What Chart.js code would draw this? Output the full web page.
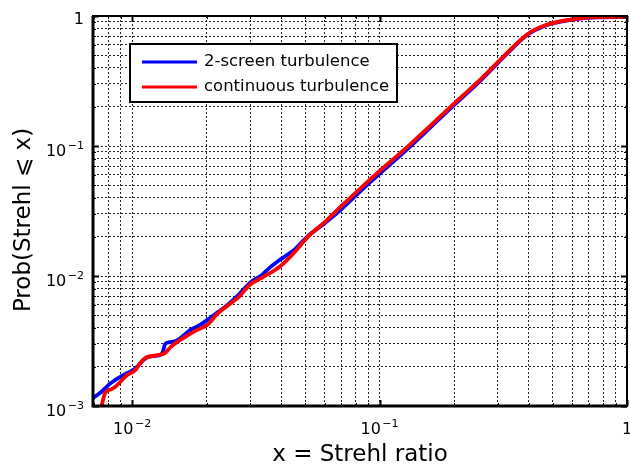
<!DOCTYPE html>
<html lang="en">
<head>
    <meta charset="UTF-8">
    <title>Strehl ratio CDF</title>
    <script src="https://cdn.jsdelivr.net/npm/chart.js"></script>
    <style>
        html, body { margin: 0; padding: 0; background: #fff; }
        #wrap { width: 630px; height: 469px; }
    </style>
</head>
<body>

<div id="wrap"><canvas id="strehlChart" width="630" height="469"></canvas></div>

<script>
    // values
    const seriesNames = ['2-screen turbulence', 'continuous turbulence'];

    const twoScreenX = [0.00695, 0.0075, 0.00778, 0.0082, 0.00853, 0.0092, 0.0101, 0.0106, 0.0111, 0.0118,
        0.0130, 0.0133, 0.0136, 0.0142, 0.0152, 0.0162, 0.0172, 0.0188, 0.0205, 0.0223,
        0.0243, 0.027, 0.030, 0.0335, 0.036, 0.0397, 0.045, 0.0512, 0.060, 0.0695,
        0.0894, 0.1336, 0.1936, 0.2564, 0.33, 0.397, 0.461, 0.556, 0.67, 0.8, 1.0];
    const twoScreenY = [1.15e-3, 1.28e-3, 1.37e-3, 1.5e-3, 1.58e-3, 1.73e-3, 1.89e-3, 2.05e-3, 2.26e-3, 2.4e-3,
        2.47e-3, 2.6e-3, 3.0e-3, 3.1e-3, 3.2e-3, 3.5e-3, 3.85e-3, 4.2e-3, 4.7e-3, 5.3e-3,
        6.0e-3, 7.2e-3, 8.9e-3, 1.02e-2, 1.16e-2, 1.34e-2, 1.58e-2, 2.02e-2, 2.55e-2, 3.22e-2,
        5.05e-2, 1.0e-1, 1.95e-1, 3.2e-1, 5.2e-1, 7.2e-1, 8.35e-1, 9.15e-1, 9.65e-1, 0.978, 0.982];

    const continuousX = [0.0075, 0.00778, 0.0082, 0.00853, 0.00955, 0.0103, 0.0108, 0.0113, 0.0125, 0.0136,
        0.0143, 0.0161, 0.0183, 0.0201, 0.0223, 0.0243, 0.027, 0.030, 0.0335, 0.0397,
        0.045, 0.0512, 0.060, 0.0695, 0.0894, 0.1336, 0.1936, 0.2564, 0.33, 0.397,
        0.461, 0.556, 0.67, 0.8, 1.0];
    const continuousY = [0.97e-3, 1.26e-3, 1.34e-3, 1.4e-3, 1.73e-3, 1.89e-3, 2.14e-3, 2.34e-3, 2.45e-3, 2.56e-3,
        2.84e-3, 3.33e-3, 3.85e-3, 4.2e-3, 5.2e-3, 5.9e-3, 6.9e-3, 8.6e-3, 9.7e-3, 1.19e-2,
        1.5e-2, 1.99e-2, 2.6e-2, 3.4e-2, 5.3e-2, 1.04e-1, 2.0e-1, 3.27e-1, 5.28e-1, 7.27e-1,
        8.4e-1, 9.2e-1, 9.68e-1, 0.98, 0.984];

    // decade tick labels: base and superscript exponent
    const xMajor = [0.01, 0.1, 1];
    const xTickBase = ['10', '10', '1'];
    const xTickExp = ['\u22122', '\u22121', ''];
    const yMajor = [0.001, 0.01, 0.1, 1];
    const yTickBase = ['10', '10', '10', '1'];
    const yTickExp = ['\u22123', '\u22122', '\u22121', ''];

    const xTitle = 'x = Strehl ratio';
    const yTitle = 'Prob(Strehl \u2A7D x)';

    const xRange = [0.00695, 1];
    const yRange = [0.001, 1];

    function toPoints(xs, ys) {
        return xs.map((x, i) => ({ x: x, y: ys[i] }));
    }

    // 1..9 x 10^n grid positions inside the range
    function decadeTicks(min, max) {
        const ticks = [];
        for (let e = Math.floor(Math.log10(min)); e <= Math.ceil(Math.log10(max)); e++) {
            for (let k = 1; k <= 9; k++) {
                const v = k * Math.pow(10, e);
                if (v >= min * 0.9999 && v <= max * 1.0001) ticks.push({ value: v });
            }
        }
        return ticks;
    }

    function isMajor(value) {
        return Math.abs(Math.log10(value) - Math.round(Math.log10(value))) < 1e-6;
    }

    const baseFont = '16px "DejaVu Sans"';
    const expFont = '11px "DejaVu Sans"';

    // box frame, inward tick marks, decade labels with superscripts, y title
    const frameTicks = {
        id: 'frameTicks',
        afterDatasetsDraw(chart) {
            const { ctx, chartArea: a, scales } = chart;
            ctx.save();
            ctx.strokeStyle = '#000';
            scales.x.ticks.forEach(t => {
                const px = Math.round(scales.x.getPixelForValue(t.value)) + 0.5;
                const len = isMajor(t.value) ? 6 : 3;
                ctx.lineWidth = isMajor(t.value) ? 2 : 1;
                ctx.beginPath();
                ctx.moveTo(px, a.bottom); ctx.lineTo(px, a.bottom - len);
                ctx.moveTo(px, a.top); ctx.lineTo(px, a.top + len);
                ctx.stroke();
            });
            scales.y.ticks.forEach(t => {
                const py = Math.round(scales.y.getPixelForValue(t.value)) + 0.5;
                const len = isMajor(t.value) ? 6 : 3;
                ctx.lineWidth = isMajor(t.value) ? 2 : 1;
                ctx.beginPath();
                ctx.moveTo(a.left, py); ctx.lineTo(a.left + len, py);
                ctx.moveTo(a.right, py); ctx.lineTo(a.right - len, py);
                ctx.stroke();
            });
            ctx.lineWidth = 2;
            ctx.strokeRect(a.left, a.top, a.right - a.left, a.bottom - a.top);
            // slightly heavier left and bottom axis lines
            ctx.lineWidth = 3;
            ctx.beginPath();
            ctx.moveTo(a.left, a.top); ctx.lineTo(a.left, a.bottom); ctx.lineTo(a.right, a.bottom);
            ctx.stroke();

            ctx.fillStyle = '#000';
            ctx.textBaseline = 'alphabetic';
            ctx.textAlign = 'left';
            const gap = 1.5;
            xMajor.forEach((v, i) => {
                const px = scales.x.getPixelForValue(v);
                ctx.font = baseFont;
                const bw = ctx.measureText(xTickBase[i]).width;
                ctx.font = expFont;
                const ew = xTickExp[i] ? ctx.measureText(xTickExp[i]).width + gap : 0;
                const x0 = px - (bw + ew) / 2;
                ctx.font = baseFont;
                ctx.fillText(xTickBase[i], x0, a.bottom + 28);
                ctx.font = expFont;
                if (xTickExp[i]) ctx.fillText(xTickExp[i], x0 + bw + gap, a.bottom + 21);
            });
            yMajor.forEach((v, i) => {
                const py = scales.y.getPixelForValue(v);
                const right = a.left - 9;
                ctx.font = expFont;
                const ew = yTickExp[i] ? ctx.measureText(yTickExp[i]).width + gap : 0;
                ctx.font = baseFont;
                const bw = ctx.measureText(yTickBase[i]).width;
                const x0 = right - ew - bw;
                ctx.fillText(yTickBase[i], x0, py + (yTickExp[i] ? 10 : 8));
                ctx.font = expFont;
                if (yTickExp[i]) ctx.fillText(yTickExp[i], x0 + bw + gap, py + 3);
            });

            ctx.font = '23px "DejaVu Sans"';
            ctx.textAlign = 'center';
            ctx.textBaseline = 'middle';
            ctx.translate(24, (a.top + a.bottom) / 2 + 9);
            ctx.rotate(-Math.PI / 2);
            ctx.fillText(yTitle, 0, 0);
            ctx.restore();
        }
    };

    // boxed legend inside the plot, top left
    const boxedLegend = {
        id: 'boxedLegend',
        afterDraw(chart) {
            const { ctx, chartArea: a } = chart;
            const bx = a.left + 37, by = a.top + 28, bw = 267, bh = 58;
            ctx.save();
            ctx.fillStyle = '#fff';
            ctx.fillRect(bx, by, bw, bh);
            ctx.lineWidth = 2;
            ctx.strokeStyle = '#000';
            ctx.strokeRect(bx, by, bw, bh);
            ctx.font = '16.5px "DejaVu Sans"';
            ctx.textBaseline = 'middle';
            ctx.textAlign = 'left';
            const entries = [chart.data.datasets[1], chart.data.datasets[0]];
            entries.forEach((ds, i) => {
                const ly = by + 18 + i * 25;
                ctx.strokeStyle = ds.borderColor;
                ctx.lineWidth = 3;
                ctx.beginPath();
                ctx.moveTo(bx + 12, ly); ctx.lineTo(bx + 67, ly);
                ctx.stroke();
                ctx.fillStyle = '#000';
                ctx.fillText(ds.label, bx + 74, ly);
            });
            ctx.restore();
        }
    };

    const gridStyle = { color: 'rgba(0,0,0,0.85)', lineWidth: 1, drawTicks: false };
    const borderStyle = { display: false, dash: [2, 2] };

    Chart.defaults.font.family = '"DejaVu Sans", sans-serif';
    Chart.defaults.color = '#000';

    new Chart(document.getElementById('strehlChart').getContext('2d'), {
        type: 'line',
        data: {
            datasets: [{
                label: seriesNames[1],
                data: toPoints(continuousX, continuousY),
                borderColor: '#ff0000',
                borderWidth: 3.8,
                pointRadius: 0,
                cubicInterpolationMode: 'monotone',
                order: 0
            }, {
                label: seriesNames[0],
                data: toPoints(twoScreenX, twoScreenY),
                borderColor: '#0000ff',
                borderWidth: 3.8,
                pointRadius: 0,
                cubicInterpolationMode: 'monotone',
                order: 1
            }]
        },
        options: {
            responsive: false,
            animation: false,
            layout: { padding: { top: 16, right: 3, left: 0, bottom: 0 } },
            plugins: { legend: { display: false }, tooltip: { enabled: false } },
            scales: {
                x: {
                    type: 'logarithmic',
                    min: xRange[0],
                    max: xRange[1],
                    grid: gridStyle,
                    border: borderStyle,
                    afterBuildTicks: s => { s.ticks = decadeTicks(xRange[0], xRange[1]); },
                    afterFit: s => { s.height = 63; s.paddingLeft = 0; s.paddingRight = 0; },
                    ticks: { display: false },
                    title: {
                        display: true,
                        text: xTitle,
                        font: { size: 23 },
                        padding: { top: 0, bottom: 0 }
                    }
                },
                y: {
                    type: 'logarithmic',
                    min: yRange[0],
                    max: yRange[1],
                    grid: gridStyle,
                    border: borderStyle,
                    afterBuildTicks: s => { s.ticks = decadeTicks(yRange[0], yRange[1]); },
                    afterFit: s => { s.width = 93; s.paddingTop = 0; s.paddingBottom = 0; },
                    ticks: { display: false }
                }
            }
        },
        plugins: [frameTicks, boxedLegend]
    });
</script>

</body>
</html>
